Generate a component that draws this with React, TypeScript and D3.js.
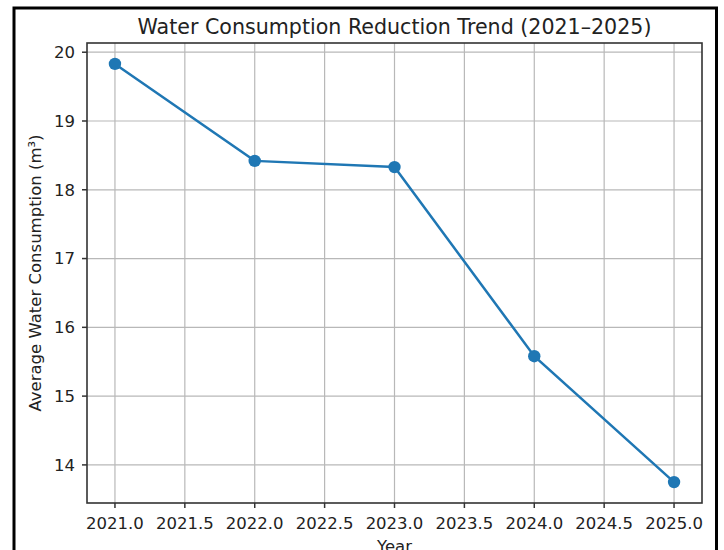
import React from "react";
import * as d3 from "d3";

const years = [2021, 2022, 2023, 2024, 2025];
const consumption = [19.83, 18.42, 18.33, 15.58, 13.75];
const xTicks = [2021, 2021.5, 2022, 2022.5, 2023, 2023.5, 2024, 2024.5, 2025];
const yTicks = [14, 15, 16, 17, 18, 19, 20];
const title = "Water Consumption Reduction Trend (2021–2025)";
const xLabel = "Year";
const yLabel = "Average Water Consumption (m³)";

const W = 724;
const H = 550;
const left = 87;
const right = 702;
const top = 43;
const bottom = 503;
const font = "DejaVu Sans, sans-serif";
const color = "#1f77b4";
const textColor = "#222";

export default function App() {
  const x = d3.scaleLinear().domain([2020.8, 2025.2]).range([left, right]);
  const span = d3.max(consumption)! - d3.min(consumption)!;
  const y = d3
    .scaleLinear()
    .domain([d3.min(consumption)! - span * 0.05, d3.max(consumption)! + span * 0.05])
    .range([bottom, top]);
  const line = d3
    .line<number>()
    .x((_, i) => x(years[i]))
    .y((d) => y(d));

  return (
    <svg
      width={W}
      height={H}
      style={{ position: "absolute", left: 0, top: 0, background: "#fff" }}
      fontFamily={font}
    >
      <rect x={0} y={0} width={W} height={H} fill="#fff" />
      {/* outer frame */}
      <rect x={14} y={8} width={702.5} height={560} fill="none" stroke="#000" strokeWidth={3} />
      {/* grid */}
      {xTicks.map((t) => (
        <line key={"gx" + t} x1={x(t)} x2={x(t)} y1={top} y2={bottom} stroke="#b8b8b8" strokeWidth={1.2} />
      ))}
      {yTicks.map((t) => (
        <line key={"gy" + t} x1={left} x2={right} y1={y(t)} y2={y(t)} stroke="#b8b8b8" strokeWidth={1.2} />
      ))}
      {/* line + markers */}
      <path d={line(consumption) || ""} fill="none" stroke={color} strokeWidth={2.5} />
      {consumption.map((v, i) => (
        <circle key={"m" + i} cx={x(years[i])} cy={y(v)} r={6.2} fill={color} />
      ))}
      {/* spines */}
      <rect x={left} y={top} width={right - left} height={bottom - top} fill="none" stroke="#333" strokeWidth={1.6} />
      {/* x ticks */}
      {xTicks.map((t) => (
        <g key={"tx" + t}>
          <line x1={x(t)} x2={x(t)} y1={bottom} y2={bottom + 5} stroke="#333" strokeWidth={1.5} />
          <text x={x(t)} y={bottom + 26} textAnchor="middle" fontSize={16.5} fill={textColor}>
            {t.toFixed(1)}
          </text>
        </g>
      ))}
      {/* y ticks */}
      {yTicks.map((t) => (
        <g key={"ty" + t}>
          <line x1={left - 5} x2={left} y1={y(t)} y2={y(t)} stroke="#333" strokeWidth={1.5} />
          <text x={left - 12} y={y(t)} dy="0.36em" textAnchor="end" fontSize={16.5} fill={textColor}>
            {t}
          </text>
        </g>
      ))}
      {/* labels */}
      <text x={(left + right) / 2} y={34} textAnchor="middle" fontSize={20.6} fill={textColor}>
        {title}
      </text>
      <text x={(left + right) / 2} y={552} textAnchor="middle" fontSize={16.5} fill={textColor}>
        {xLabel}
      </text>
      <text
        transform={`translate(41, ${(top + bottom) / 2}) rotate(-90)`}
        textAnchor="middle"
        fontSize={16.5}
        fill={textColor}
      >
        {yLabel}
      </text>
    </svg>
  );
}
